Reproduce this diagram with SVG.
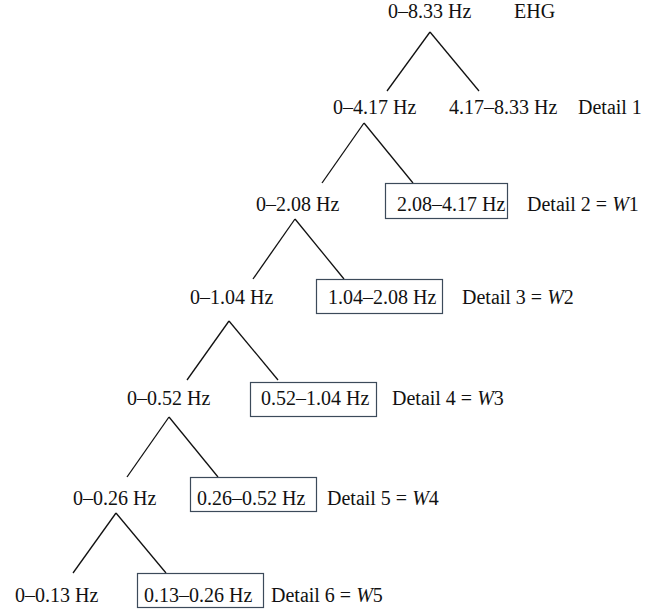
<svg xmlns="http://www.w3.org/2000/svg" width="666" height="611" viewBox="0 0 666 611">
<style>
text{font-family:"Liberation Serif","Times New Roman",serif;font-size:20px;fill:#111}
.box{fill:none;stroke:#3c4a5a;stroke-width:1.2}
.c line{stroke:#111;stroke-width:1.3}
</style>
<rect width="666" height="611" fill="#fff"/>
<g class="c" id="connectors">
<line x1="430" y1="32" x2="387" y2="91"/><line x1="430" y1="32" x2="479" y2="91"/>
<line x1="364" y1="123" x2="322" y2="183"/><line x1="364" y1="123" x2="413" y2="183"/>
<line x1="295" y1="219" x2="253" y2="279"/><line x1="295" y1="219" x2="344" y2="279"/>
<line x1="229" y1="321" x2="187" y2="380"/><line x1="229" y1="321" x2="278" y2="380"/>
<line x1="169" y1="417" x2="127" y2="477"/><line x1="169" y1="417" x2="218" y2="477"/>
<line x1="116" y1="513" x2="73" y2="573"/><line x1="116" y1="513" x2="166" y2="573"/>
</g>
<g id="n0"><text x="388" y="18">0–8.33 Hz</text></g>
<g id="lbl0"><text x="514" y="18">EHG</text></g>
<g id="n1a"><text x="333" y="114">0–4.17 Hz</text></g>
<g id="n1b"><text x="449" y="114">4.17–8.33 Hz</text></g>
<g id="lbl1"><text x="578" y="114">Detail 1</text></g>
<g id="n2a"><text x="256" y="211">0–2.08 Hz</text></g>
<g id="n2b"><rect class="box" x="385.5" y="183.5" width="122" height="35"/><text x="397" y="211">2.08–4.17 Hz</text></g>
<g id="lbl2"><text x="527" y="211">Detail 2 = <tspan font-style="italic">W</tspan>1</text></g>
<g id="n3a"><text x="190" y="304">0–1.04 Hz</text></g>
<g id="n3b"><rect class="box" x="316.5" y="279.5" width="126" height="34"/><text x="328" y="304">1.04–2.08 Hz</text></g>
<g id="lbl3"><text x="462" y="304">Detail 3 = <tspan font-style="italic">W</tspan>2</text></g>
<g id="n4a"><text x="127" y="405">0–0.52 Hz</text></g>
<g id="n4b"><rect class="box" x="250.5" y="382.5" width="126" height="34"/><text x="261" y="405">0.52–1.04 Hz</text></g>
<g id="lbl4"><text x="392" y="405">Detail 4 = <tspan font-style="italic">W</tspan>3</text></g>
<g id="n5a"><text x="73" y="505">0–0.26 Hz</text></g>
<g id="n5b"><rect class="box" x="190.5" y="477.5" width="126" height="34"/><text x="197" y="505">0.26–0.52 Hz</text></g>
<g id="lbl5"><text x="327" y="505">Detail 5 = <tspan font-style="italic">W</tspan>4</text></g>
<g id="n6a"><text x="15" y="602">0–0.13 Hz</text></g>
<g id="n6b"><rect class="box" x="137.5" y="573.5" width="126" height="34"/><text x="144" y="602">0.13–0.26 Hz</text></g>
<g id="lbl6"><text x="271" y="602">Detail 6 = <tspan font-style="italic">W</tspan>5</text></g>
</svg>
